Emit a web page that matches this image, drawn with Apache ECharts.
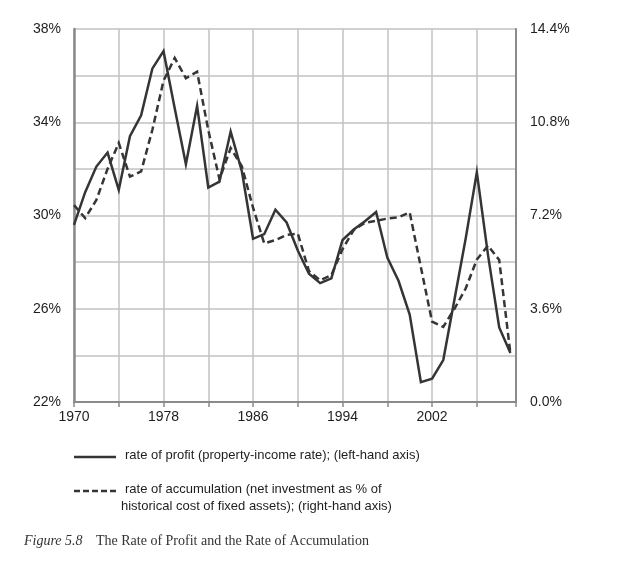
<!DOCTYPE html>
<html>
<head>
<meta charset="utf-8">
<script src="https://cdn.jsdelivr.net/npm/echarts@6/dist/echarts.min.js"></script>
<style>
html,body{margin:0;padding:0;background:#fff;}
#c{width:617px;height:566px;}
</style>
</head>
<body>
<div id="c"></div>
<script>
var years = [1970,1971,1972,1973,1974,1975,1976,1977,1978,1979,
             1980,1981,1982,1983,1984,1985,1986,1987,1988,1989,
             1990,1991,1992,1993,1994,1995,1996,1997,1998,1999,
             2000,2001,2002,2003,2004,2005,2006,2007,2008,2009];
var profitRate = [29.6,31.0,32.1,32.7,31.1,33.4,34.3,36.3,37.05,34.6,
                  32.2,34.7,31.2,31.45,33.6,31.9,29.0,29.2,30.25,29.7,
                  28.5,27.5,27.1,27.3,28.95,29.4,29.75,30.15,28.2,27.2,
                  25.75,22.85,23.0,23.8,26.4,29.0,31.85,28.3,25.2,24.1];
var accumulationRate = [7.6,7.1,7.8,9.0,10.0,8.7,8.9,10.5,12.4,13.28,
                        12.5,12.75,10.5,8.6,9.8,9.1,7.5,6.12,6.25,6.45,
                        6.5,5.05,4.7,4.9,5.9,6.64,6.92,7.0,7.08,7.13,
                        7.32,5.2,3.1,2.9,3.6,4.38,5.5,6.04,5.48,1.87];
var baseYear = 1970;
var xLabelYears = [1970,1978,1986,1994,2002];
var leftTicks = [22,26,30,34,38];
var rightTicks = [0,3.6,7.2,10.8,14.4];
var legendTexts = ['rate of profit (property-income rate); (left-hand axis)',
                   'rate of accumulation (net investment as % of',
                   'historical cost of fixed assets); (right-hand axis)'];

var profitData = years.map(function(y,i){return [y-baseYear, profitRate[i]];});
var accData = years.map(function(y,i){return [y-baseYear, accumulationRate[i]];});

var lineColor = '#353535';
var gridColor = '#c2c2c2';
var axisColor = '#8a8a8a';
var txt = '#1e1e1e';
var lblFont = 'Liberation Sans, Arial, sans-serif';

var chart = echarts.init(document.getElementById('c'), null, {renderer:'canvas'});
chart.setOption({
  animation:false,
  backgroundColor:'#fff',
  grid:{left:74,right:101,top:29,bottom:164,containLabel:false},
  xAxis:{
    type:'value', min:0, max:39.5, interval:4,
    axisLine:{show:true,lineStyle:{color:axisColor,width:2}},
    axisTick:{show:true,length:5,lineStyle:{color:axisColor,width:1.5}},
    splitLine:{show:true,lineStyle:{color:gridColor,width:1.5}},
    axisLabel:{
      margin:8, color:txt, fontFamily:lblFont, fontSize:14,
      formatter:function(v){
        var y = Math.round(v)+baseYear;
        return (Math.abs(v-Math.round(v))<1e-6 && xLabelYears.indexOf(y)>=0) ? String(y) : '';
      }
    }
  },
  yAxis:[{
    type:'value', min:22, max:38, interval:2, position:'left',
    axisLine:{show:true,lineStyle:{color:axisColor,width:2.5}},
    axisTick:{show:false},
    splitLine:{show:true,lineStyle:{color:gridColor,width:1.5}},
    axisLabel:{
      margin:13, color:txt, fontFamily:lblFont, fontSize:14,
      formatter:function(v){
        var r = Math.round(v);
        return leftTicks.indexOf(r)>=0 ? r+'%' : '';
      }
    }
  },{
    type:'value', min:0, max:14.4, interval:1.8, position:'right',
    axisLine:{show:true,lineStyle:{color:axisColor,width:2}},
    axisTick:{show:false},
    splitLine:{show:false},
    axisLabel:{
      margin:14, color:txt, fontFamily:lblFont, fontSize:14,
      formatter:function(v){
        var k = Math.round(v/1.8);
        return (k%2===0) ? (k*1.8).toFixed(1)+'%' : '';
      }
    }
  }],
  series:[{
    name:'profit', type:'line', yAxisIndex:0, data:profitData,
    showSymbol:false, symbol:'none',
    lineStyle:{color:lineColor,width:2.5,type:'solid',join:'miter'},
    z:3
  },{
    name:'accumulation', type:'line', yAxisIndex:1, data:accData,
    showSymbol:false, symbol:'none',
    lineStyle:{color:lineColor,width:2.5,type:[7,4],join:'miter'},
    z:4
  }],
  graphic:[
    {type:'line', shape:{x1:74,y1:457,x2:116,y2:457}, style:{stroke:lineColor,lineWidth:2.5}},
    {type:'text', left:125, top:449, style:{text:legendTexts[0], fill:txt, font:'13px "Liberation Sans", Arial, sans-serif'}},
    {type:'line', shape:{x1:74,y1:491,x2:116,y2:491}, style:{stroke:lineColor,lineWidth:2.5,lineDash:[6,3]}},
    {type:'text', left:125, top:483, style:{text:legendTexts[1], fill:txt, font:'13px "Liberation Sans", Arial, sans-serif'}},
    {type:'text', left:121, top:500, style:{text:legendTexts[2], fill:txt, font:'13px "Liberation Sans", Arial, sans-serif'}},
    {type:'text', left:24, top:534, style:{
      text:'{a|Figure 5.8}{b|The Rate of Profit and the Rate of Accumulation}',
      rich:{
        a:{fontFamily:'Liberation Serif, Times New Roman, serif', fontStyle:'italic', fontSize:14, fill:'#333', width:72},
        b:{fontFamily:'Liberation Serif, Times New Roman, serif', fontSize:14, fill:'#333'}
      }
    }}
  ]
});
</script>
</body>
</html>
